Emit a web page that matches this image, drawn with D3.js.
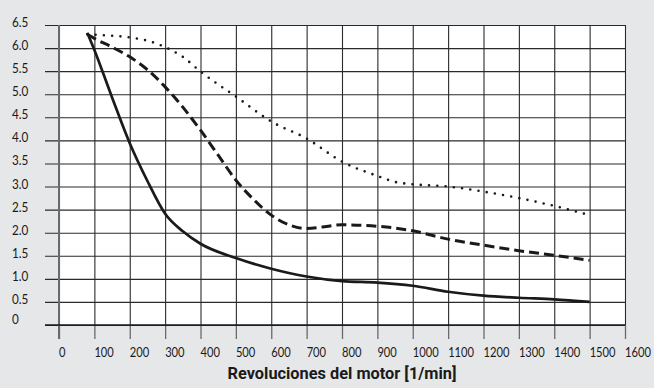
<!DOCTYPE html>
<html>
<head>
<meta charset="utf-8">
<script src="https://cdn.jsdelivr.net/npm/d3@7"></script>
<style>
  html, body { margin: 0; padding: 0; background: #e6e7e9; }
  svg { display: block; }
  text { font-family: Lato, "Noto Sans", sans-serif; fill: #1a1a1a; }
</style>
</head>
<body>
<svg id="chart" width="654" height="388"></svg>
<script>
// Motor speed (1/min) against conveyor speed (m/s), three load curves
const xTicks = [0, 100, 200, 300, 400, 500, 600, 700, 800, 900, 1000, 1100, 1200, 1300, 1400, 1500, 1600];
const yTicks = [0, 0.5, 1.0, 1.5, 2.0, 2.5, 3.0, 3.5, 4.0, 4.5, 5.0, 5.5, 6.0, 6.5];

const solidRpm = [80, 100, 150, 200, 250, 300, 350, 400, 500, 600, 700, 800, 900, 1000, 1100, 1200, 1300, 1400, 1500];
const solidSpeed = [6.33, 5.96, 4.93, 3.94, 3.12, 2.41, 2.03, 1.76, 1.45, 1.22, 1.05, 0.95, 0.92, 0.85, 0.72, 0.635, 0.59, 0.555, 0.5];

const dashedRpm = [80, 100, 150, 200, 250, 300, 350, 400, 450, 500, 550, 600, 650, 700, 800, 900, 1000, 1100, 1200, 1300, 1400, 1500];
const dashedSpeed = [6.3, 6.21, 6.02, 5.81, 5.53, 5.16, 4.72, 4.22, 3.68, 3.14, 2.72, 2.38, 2.17, 2.09, 2.17, 2.14, 2.04, 1.86, 1.73, 1.61, 1.51, 1.4];

const dottedRpm = [80, 100, 200, 250, 300, 350, 400, 500, 600, 700, 800, 900, 950, 1000, 1100, 1200, 1300, 1400, 1500];
const dottedSpeed = [6.3, 6.29, 6.23, 6.16, 6.02, 5.81, 5.49, 4.95, 4.41, 4.04, 3.54, 3.23, 3.1, 3.05, 3.0, 2.89, 2.75, 2.58, 2.38];

const yTitle = "Velocidad de la cinta [m/s]";
const xTitle = "Revoluciones del motor [1/min]";

const svg = d3.select("#chart");
const plotLeft = 59, plotRight = 625, plotTop = 25, plotBottom = 325;

const x = d3.scaleLinear().domain([0, 1600]).range([plotLeft, plotRight]);
const y = d3.scaleLinear().domain([0, 6.5]).range([plotBottom, plotTop]);

// plot background
svg.append("rect")
  .attr("x", plotLeft).attr("y", plotTop)
  .attr("width", plotRight - plotLeft).attr("height", plotBottom - plotTop)
  .attr("fill", "#ffffff");

// vertical grid lines
const gx = svg.append("g")
  .attr("transform", `translate(0,${plotBottom})`)
  .call(d3.axisBottom(x).tickValues(xTicks).tickSize(-(plotBottom - plotTop)).tickFormat(""));
gx.select(".domain").remove();
gx.selectAll(".tick line").attr("stroke", "#2a2a2a").attr("stroke-width", 1.1);

// x ticks below the plot, with left-aligned labels
const xa = svg.append("g")
  .attr("transform", `translate(0,${plotBottom})`)
  .call(d3.axisBottom(x).tickValues(xTicks).tickSize(14).tickFormat(d3.format("d")));
xa.select(".domain").remove();
xa.selectAll(".tick line").attr("stroke", "#6a6a6a").attr("stroke-width", 1.3);
xa.selectAll(".tick text")
  .attr("text-anchor", "start")
  .attr("y", 0).attr("dy", 0)
  .attr("transform", "translate(-0.5,32) scale(0.86,1)")
  .style("font-size", "13px")
  .style("font-family", "Lato, sans-serif")
  .attr("fill", "#1a1a1a");

// horizontal grid lines with labels at the far left
const ya = svg.append("g")
  .attr("transform", `translate(${plotLeft},0)`)
  .call(d3.axisLeft(y).tickValues(yTicks).tickSize(14)
    .tickFormat(d => d === 0 ? "0" : d3.format(".1f")(d)));
ya.select(".domain").remove();
ya.selectAll(".tick line")
  .attr("x1", -14).attr("x2", plotRight - plotLeft)
  .attr("stroke", "#2a2a2a").attr("stroke-width", 1.1);
ya.selectAll(".tick text")
  .attr("text-anchor", "start")
  .attr("x", 0).attr("dy", 0)
  .attr("transform", d => `translate(${12 - plotLeft},${d === 0 ? -1.5 : 1.5}) scale(0.9,1)`)
  .style("font-size", "13px")
  .style("font-family", "Lato, sans-serif")
  .attr("fill", "#1a1a1a");

// y axis line
svg.append("line")
  .attr("x1", plotLeft).attr("x2", plotLeft)
  .attr("y1", plotTop).attr("y2", plotBottom + 14)
  .attr("stroke", "#6a6a6a").attr("stroke-width", 2);

// zero baseline
svg.append("line")
  .attr("x1", plotLeft - 14).attr("x2", plotRight)
  .attr("y1", y(0)).attr("y2", y(0))
  .attr("stroke", "#1a1a1a").attr("stroke-width", 1.4);

const line = d3.line()
  .x(d => x(d[0]))
  .y(d => y(d[1]))
  .curve(d3.curveMonotoneX);

const curves = [
  { rpm: dottedRpm, speed: dottedSpeed, dash: "0 8.3", width: 2.6 },
  { rpm: dashedRpm, speed: dashedSpeed, dash: "10 5", width: 3 },
  { rpm: solidRpm, speed: solidSpeed, dash: null, width: 2.7 }
];

curves.forEach(c => {
  svg.append("path")
    .datum(c.rpm.map((r, i) => [r, c.speed[i]]))
    .attr("d", line)
    .attr("fill", "none")
    .attr("stroke", "#1a1a1a")
    .attr("stroke-width", c.width)
    .attr("stroke-linecap", c.dash && c.dash.startsWith("0") ? "round" : "butt")
    .attr("stroke-dasharray", c.dash);
});

// axis titles
svg.append("text")
  .attr("x", 342).attr("y", 379)
  .attr("text-anchor", "middle")
  .attr("textLength", 229)
  .attr("lengthAdjust", "spacingAndGlyphs")
  .style("font-family", "Roboto, sans-serif")
  .style("font-weight", "bold")
  .style("font-size", "17px")
  .text(xTitle);

svg.append("text")
  .attr("x", 20).attr("y", -2)
  .attr("textLength", 248)
  .attr("lengthAdjust", "spacingAndGlyphs")
  .style("font-family", "Roboto, sans-serif")
  .style("font-weight", "bold")
  .style("font-size", "15px")
  .text(yTitle);
</script>
</body>
</html>
